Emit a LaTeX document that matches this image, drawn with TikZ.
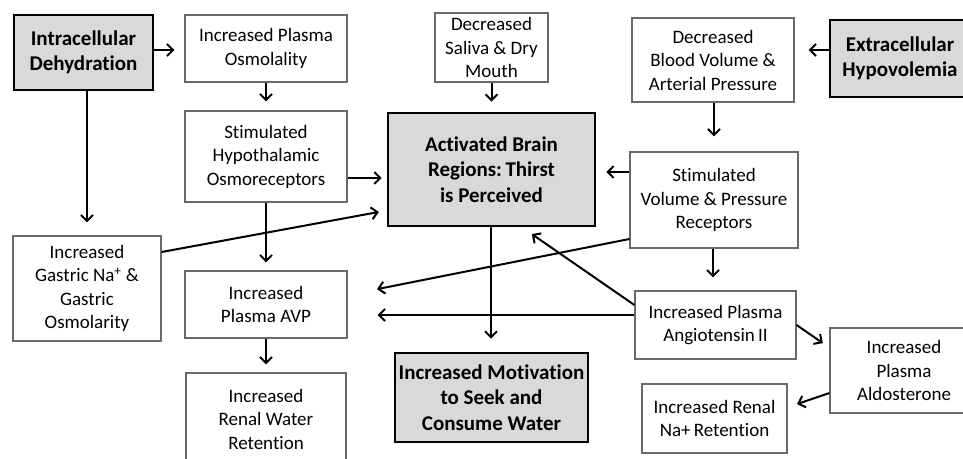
\documentclass[tikz,border=0pt]{standalone}
\usepackage{fontspec}
\setmainfont{Carlito}[Ligatures={NoCommon}]
\usetikzlibrary{arrows.meta}
\definecolor{boxline}{RGB}{105,105,105}
\definecolor{boxfill}{RGB}{217,217,217}
\begin{document}
\begin{tikzpicture}[x=1pt,y=-1pt,
 box/.style={draw=boxline, line width=1.2pt, fill=white, align=center, inner sep=0pt, font=\fontsize{19}{23.5}\selectfont},
 keybox/.style={draw=black, line width=2.6pt, fill=boxfill, align=center, inner sep=0pt, font=\fontsize{21}{25.5}\selectfont\bfseries},
 arr/.style={line width=2pt, -{Straight Barb[length=6pt,width=12pt]}}]
\useasboundingbox (0,0) rectangle (963,458);
\clip (0,0) rectangle (963,458);
\fill[white] (0,0) rectangle (963,458);
% nodes
\node[keybox, minimum width=139pt, minimum height=75pt] (ID) at (83.5,52.5) {Intracellular\\Dehydration};
\node[box, minimum width=162pt, minimum height=67pt] (PO) at (266,48.5) {Increased Plasma\\Osmolality};
\node[box, minimum width=162pt, minimum height=91pt] (HO) at (266,156.5) {Stimulated\\Hypothalamic\\Osmoreceptors};
\node[box, minimum width=113pt, minimum height=69pt] (SD) at (491.5,47.5) {Decreased\\Saliva \& Dry\\Mouth};
\node[keybox, minimum width=207pt, minimum height=113pt] (BR) at (491.5,169.5) {Activated Brain\\Regions:\,Thirst\\is Perceived};
\node[box, minimum width=162pt, minimum height=84pt] (BV) at (713,60) {Decreased\\Blood Volume \&\\Arterial Pressure};
\node[keybox, minimum width=140pt, minimum height=77pt] (EH) at (900,58.5) {Extracellular\\Hypovolemia};
\node[box, minimum width=168pt, minimum height=96pt] (VP) at (714,200) {Stimulated\\Volume \& Pressure\\Receptors};
\node[box, minimum width=148pt, minimum height=105pt] (GN) at (87,288.5) {Increased\\Gastric Na\textsuperscript{+} \&\\Gastric\\Osmolarity};
\node[box, minimum width=162pt, minimum height=67pt] (AVP) at (266,304.5) {Increased\\Plasma AVP};
\node[box, minimum width=160pt, minimum height=92pt] (RW) at (266,419) {Increased\\Renal Water\\Retention};
\node[keybox, minimum width=193pt, minimum height=89pt] (MO) at (491.5,397.5) {Increased Motivation\\to Seek and\\Consume Water};
\node[box, minimum width=161pt, minimum height=68pt] (AN) at (715.5,325) {Increased Plasma\\Angiotensin\,II};
\node[box, minimum width=148pt, minimum height=85pt] (AL) at (904,370.5) {Increased\\Plasma\\Aldosterone};
\node[box, minimum width=145pt, minimum height=69pt] (RN) at (714.5,418.5) {Increased Renal\\Na+\,Retention};
% connectors
\draw[arr, shorten >=10pt] (ID.east|-0,50) -- (PO.west|-0,50);
\draw[arr, shorten >=13pt] (ID.south-|87,0) -- (GN.north);
\draw[arr, shorten >=9pt] (PO) -- (HO);
\draw[arr, shorten >=8pt] (HO) -- (AVP);
\draw[arr, shorten >=8pt] (AVP) -- (RW);
\draw[arr, shorten >=10pt] (SD) -- (BR);
\draw[arr, shorten >=5pt] (HO.east|-0,178) -- (BR.west|-0,178);
\draw[arr, shorten >=8pt] (GN.east|-0,252) -- (BR.west|-0,210.5);
\draw[arr, shorten >=13pt] (BR.south-|491,0) -- (MO.north-|491,0);
\draw[arr, shorten >=14pt] (EH.west|-0,50) -- (BV.east|-0,50);
\draw[arr, shorten >=15pt] (BV.south-|714,0) -- (VP.north-|714,0);
\draw[arr, shorten >=10pt] (VP.west|-0,172) -- (BR.east|-0,172);
\draw[arr, shorten >=30pt] (VP.west|-0,239) -- (AVP.east|-0,295);
\draw[arr, shorten >=13pt] (VP.south-|713,0) -- (AN.north-|713,0);
\draw[arr, shorten >=30pt] (AN.west|-0,315) -- (AVP.east|-0,315);
\draw[arr, shorten >=12pt] (AN.west|-0,305) -- (BR.south-|522,0);
\draw[arr, shorten >=8pt] (AN.east|-0,325) -- (AL.west|-0,347.7);
\draw[arr, shorten >=10pt] (AL.west|-0,393) -- (RN.east|-0,407.3);
\end{tikzpicture}
\end{document}
